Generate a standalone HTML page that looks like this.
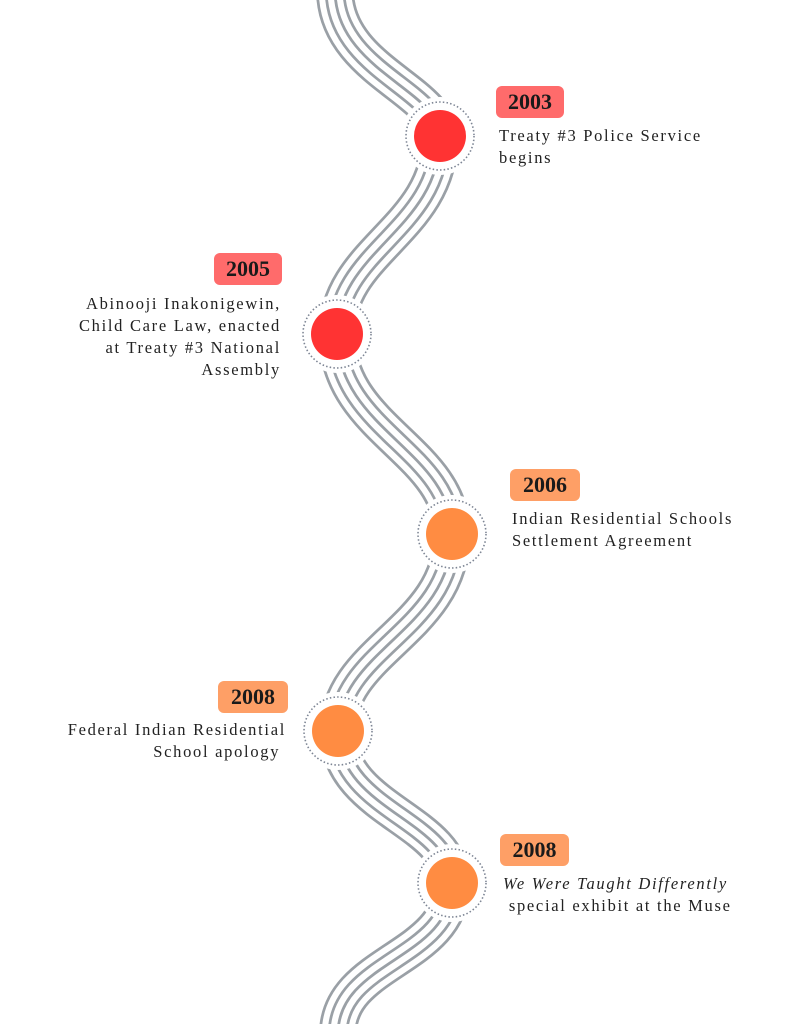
<!DOCTYPE html>
<html><head><meta charset="utf-8">
<style>
body{margin:0;width:791px;height:1024px;background:#fff;position:relative;overflow:hidden;font-family:"Liberation Serif",serif;color:#222;}
.yr{position:absolute;height:32px;border-radius:6px;font-weight:bold;font-size:22px;line-height:32px;text-align:center;color:#1a1a1a;}
.r{background:#ff6b6b}.o{background:#fe9f66}
.t{position:absolute;font-size:16.5px;line-height:22px;letter-spacing:1.7px;white-space:nowrap;}
.ra{text-align:right}
</style></head><body>
<svg width="791" height="1024" style="position:absolute;left:0;top:0">
<defs>
<path id="w" d="M335,-10 C335,70 440,90 440,136 C440,230 337,250 337,334 C337,430 452,450 452,534 C452,630 338,650 338,731 C338,810 452,820 452,883 C452,960 338,960 338,1034"/>
</defs>
<g fill="none" stroke-linecap="butt">
<use href="#w" stroke="#9aa0a6" stroke-width="38"/>
<use href="#w" stroke="#fff" stroke-width="32.5"/>
<use href="#w" stroke="#9aa0a6" stroke-width="20.5"/>
<use href="#w" stroke="#fff" stroke-width="15"/>
<use href="#w" stroke="#9aa0a6" stroke-width="2.8"/>
</g>
<g fill="#fff">
<circle cx="440" cy="136" r="39"/><circle cx="337" cy="334" r="39"/><circle cx="452" cy="534" r="39"/><circle cx="338" cy="731" r="39"/><circle cx="452" cy="883" r="39"/>
</g>
<g fill="none" stroke="#7d8594" stroke-width="1.6" stroke-dasharray="1.5 2.2">
<circle cx="440" cy="136" r="34"/><circle cx="337" cy="334" r="34"/><circle cx="452" cy="534" r="34"/><circle cx="338" cy="731" r="34"/><circle cx="452" cy="883" r="34"/>
</g>
<circle cx="440" cy="136" r="26" fill="#ff3333"/>
<circle cx="337" cy="334" r="26" fill="#ff3333"/>
<circle cx="452" cy="534" r="26" fill="#ff8c42"/>
<circle cx="338" cy="731" r="26" fill="#ff8c42"/>
<circle cx="452" cy="883" r="26" fill="#ff8c42"/>
</svg>
<div class="yr r" style="left:496px;top:86px;width:68px">2003</div>
<div class="t" style="left:499px;top:125px">Treaty #3 Police Service<br>begins</div>
<div class="yr r" style="left:214px;top:253px;width:68px">2005</div>
<div class="t ra" style="right:510px;top:293px">Abinooji Inakonigewin,<br>Child Care Law, enacted<br>at Treaty #3 National<br>Assembly</div>
<div class="yr o" style="left:510px;top:469px;width:70px">2006</div>
<div class="t" style="left:512px;top:508px">Indian Residential Schools<br>Settlement Agreement</div>
<div class="yr o" style="left:218px;top:681px;width:70px">2008</div>
<div class="t ra" style="right:505px;top:719px">Federal Indian Residential<br>School apology&nbsp;</div>
<div class="yr o" style="left:500px;top:834px;width:69px">2008</div>
<div class="t" style="left:503px;top:873px"><i>We Were Taught Differently</i><br>&nbsp;special exhibit at the Muse</div>
</body></html>
